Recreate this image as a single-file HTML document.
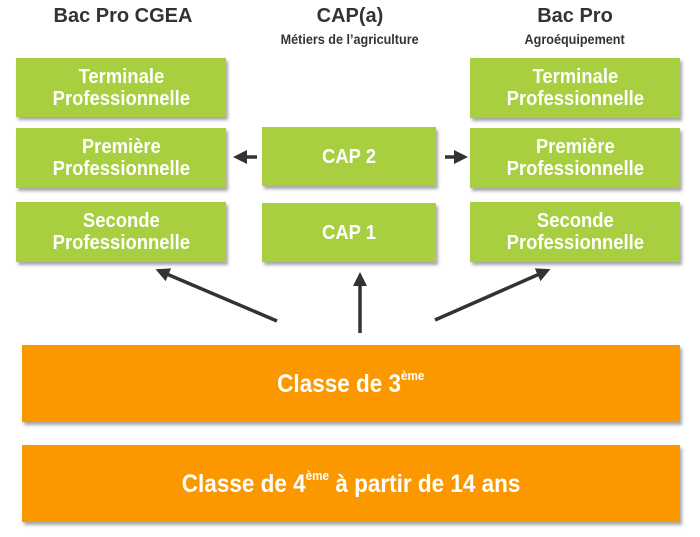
<!DOCTYPE html>
<html><head><meta charset="utf-8"><style>
body{margin:0;width:700px;height:537px;background:#fff;position:relative;overflow:hidden;font-family:"Liberation Sans",sans-serif;font-weight:bold}
.b{position:absolute;background:#a8cf3f;color:#fff;display:flex;align-items:center;justify-content:center;text-align:center;font-size:20.5px;line-height:22px;box-shadow:2px 3px 3px rgba(0,0,0,.35)}
.o{position:absolute;background:#fb9800;color:#fff;display:flex;align-items:center;justify-content:center;font-size:25px;box-shadow:2px 3px 3px rgba(0,0,0,.35)}
.s{display:inline-block;transform:scaleX(0.9);white-space:nowrap}
.h{position:absolute;color:#333;text-align:center}
sup{font-size:13px;vertical-align:12px}
</style></head><body>
<div class="h" style="left:18px;width:210px;top:5px;font-size:20px">Bac Pro CGEA</div>
<div class="h" style="left:250px;width:200px;top:5px;font-size:20px">CAP(a)</div>
<div class="h" style="left:250px;width:200px;top:31px;font-size:14px"><span class="s">Métiers de l’agriculture</span></div>
<div class="h" style="left:470px;width:210px;top:5px;font-size:20px">Bac Pro</div>
<div class="h" style="left:470px;width:210px;top:31px;font-size:14px"><span class="s">Agroéquipement</span></div>

<div class="b" style="left:16px;top:58px;width:210px;height:59px"><span class="s">Terminale<br>Professionnelle</span></div>
<div class="b" style="left:16px;top:128px;width:210px;height:60px"><span class="s">Première<br>Professionnelle</span></div>
<div class="b" style="left:16px;top:202px;width:210px;height:60px"><span class="s">Seconde<br>Professionnelle</span></div>
<div class="b" style="left:262px;top:127px;width:174px;height:59px"><span class="s">CAP 2</span></div>
<div class="b" style="left:262px;top:203px;width:174px;height:59px"><span class="s">CAP 1</span></div>
<div class="b" style="left:470px;top:58px;width:210px;height:60px"><span class="s">Terminale<br>Professionnelle</span></div>
<div class="b" style="left:470px;top:128px;width:210px;height:60px"><span class="s">Première<br>Professionnelle</span></div>
<div class="b" style="left:470px;top:202px;width:210px;height:60px"><span class="s">Seconde<br>Professionnelle</span></div>

<div class="o" style="left:22px;top:345px;width:658px;height:77px"><span class="s">Classe de 3<sup>ème</sup></span></div>
<div class="o" style="left:22px;top:445px;width:658px;height:77px"><span class="s">Classe de 4<sup>ème</sup> à partir de 14 ans</span></div>

<svg width="700" height="537" style="position:absolute;left:0;top:0">
<defs><marker id="a" markerWidth="4" markerHeight="4" refX="2" refY="2" orient="auto" markerUnits="strokeWidth"><path d="M0,0L4,2L0,4z" fill="#333"/></marker></defs>
<g stroke="#333" stroke-width="3.5" fill="none">
<line x1="257" y1="157" x2="240" y2="157" marker-end="url(#a)"/>
<line x1="445" y1="157" x2="461" y2="157" marker-end="url(#a)"/>
<line x1="277" y1="321" x2="162" y2="272" marker-end="url(#a)"/>
<line x1="360" y1="333" x2="360" y2="279" marker-end="url(#a)"/>
<line x1="435" y1="320" x2="544" y2="272" marker-end="url(#a)"/>
</g></svg>
</body></html>
